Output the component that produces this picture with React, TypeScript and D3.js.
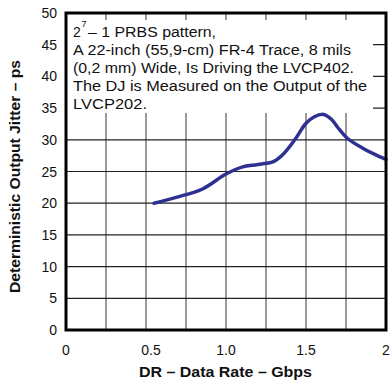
import React from "react";
import * as d3 from "d3";

const dataRate = [0.55, 0.7, 0.85, 1.0, 1.1, 1.2, 1.3, 1.36, 1.43, 1.5, 1.55, 1.61, 1.66, 1.7, 1.76, 1.86, 1.93, 2.0];
const jitter = [20.0, 21.0, 22.2, 24.6, 25.7, 26.1, 26.6, 27.8, 30.0, 32.6, 33.6, 34.0, 33.2, 31.9, 30.2, 28.6, 27.7, 26.9];
const xTicks = [0, 0.5, 1.0, 1.5, 2];
const xTickLabels = ["0", "0.5", "1.0", "1.5", "2"];
const xGrid = [0.25, 0.5, 0.75, 1.0, 1.25, 1.5, 1.75];
const yTicks = [0, 5, 10, 15, 20, 25, 30, 35, 40, 45, 50];
const noteLines = [
  "A 22-inch (55,9-cm) FR-4 Trace, 8 mils",
  "(0,2 mm) Wide, Is Driving the LVCP402.",
  "The DJ is Measured on the Output of the",
  "LVCP202.",
];
const noteWidths = [278, 281, 294, 74];

const W = 392, H = 384;
const L = 66, R = 386, T = 13, B = 330;

export default function App() {
  const x = d3.scaleLinear().domain([0, 2]).range([L, R]);
  const y = d3.scaleLinear().domain([0, 50]).range([B, T]);
  const line = d3.line<number>()
    .x((_, i) => x(dataRate[i]))
    .y((d) => y(d))
    .curve(d3.curveCatmullRom.alpha(0.5));
  const font = "'Liberation Sans', Arial, sans-serif";
  const boxRight = 373, boxBottom = 113, boxTop = 20;
  return (
    <svg width={W} height={H} style={{ position: "absolute", left: 0, top: 0, background: "#fff" }} fontFamily={font}>
      {/* grid */}
      {xGrid.map((v) => (
        <line key={"vx" + v} x1={x(v)} x2={x(v)} y1={T} y2={B} stroke="#666" strokeWidth={1.3} />
      ))}
      {yTicks.slice(1, -1).map((v) => (
        <line key={"hy" + v} x1={L} x2={R} y1={y(v)} y2={y(v)} stroke="#222" strokeWidth={1.2} />
      ))}
      {/* note box */}
      <rect x={L} y={boxTop} width={boxRight - L} height={boxBottom - boxTop} fill="#fff" />
      <text x={73} y={37} fontSize={14} fill="#111">2</text>
      <text x={81.5} y={27} fontSize={9} fill="#111">7</text>
      <text x={88} y={37} fontSize={14} fill="#111" textLength={128} lengthAdjust="spacingAndGlyphs">{"\u2013 1 PRBS pattern,"}</text>
      {noteLines.map((s, i) => (
        <text key={s} x={73} y={55 + i * 18} fontSize={14} fill="#111" textLength={noteWidths[i]} lengthAdjust="spacingAndGlyphs">{s}</text>
      ))}
      {/* curve */}
      <path d={line(jitter) || ""} fill="none" stroke="#2e3192" strokeWidth={3.5} strokeLinecap="round" strokeLinejoin="round" />
      {/* frame */}
      <rect x={L} y={T} width={R - L} height={B - T} fill="none" stroke="#000" strokeWidth={3} />
      {/* y ticks */}
      {yTicks.map((v) => (
        <text key={"yt" + v} x={57} y={y(v) + 5} fontSize={14} textAnchor="end" fill="#111">{v}</text>
      ))}
      {xTicks.map((v, i) => (
        <text key={"xt" + v} x={x(v) + (i === 1 ? 5 : 0)} y={355} fontSize={14} textAnchor="middle" fill="#111">{xTickLabels[i]}</text>
      ))}
      <text x={139} y={377} fontSize={14} fontWeight="bold" fill="#111" textLength={173} lengthAdjust="spacingAndGlyphs">{"DR \u2013 Data Rate \u2013 Gbps"}</text>
      <text transform={`translate(20,293) rotate(-90)`} fontSize={14} fontWeight="bold" fill="#111" textLength={233} lengthAdjust="spacingAndGlyphs">{"Deterministic Output Jitter \u2013 ps"}</text>
    </svg>
  );
}
